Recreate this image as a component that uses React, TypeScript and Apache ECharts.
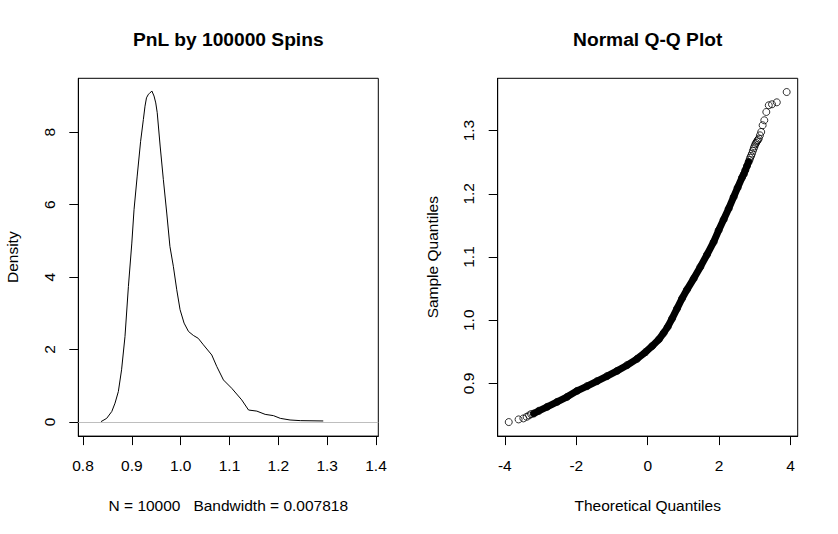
import React, { useEffect, useRef } from "react";
import * as echarts from "echarts";

const FONT = "'Liberation Sans', Arial, Helvetica, sans-serif";

// ---- Left panel: kernel density of PnL ----
const densityX = [0.837, 0.8485, 0.859, 0.8656, 0.8724, 0.879, 0.886, 0.893, 0.9, 0.9045, 0.911, 0.918, 0.9236, 0.927, 0.93, 0.934, 0.936, 0.941, 0.9455, 0.949, 0.952, 0.958, 0.9646, 0.9715, 0.978, 0.985, 0.992, 0.9988, 1.007, 1.016, 1.026, 1.036, 1.0466, 1.0637, 1.074, 1.0876, 1.1046, 1.125, 1.139, 1.156, 1.173, 1.19, 1.204, 1.224, 1.245, 1.292];
const densityY = [0.01, 0.1, 0.29, 0.52, 0.84, 1.44, 2.36, 3.74, 4.94, 5.86, 6.79, 7.75, 8.35, 8.72, 8.95, 9.05, 9.07, 9.14, 9.0, 8.81, 8.54, 7.62, 6.69, 5.77, 4.85, 4.3, 3.65, 3.1, 2.73, 2.5, 2.39, 2.31, 2.13, 1.85, 1.53, 1.16, 0.93, 0.61, 0.33, 0.3, 0.21, 0.175, 0.1, 0.055, 0.037, 0.028];
const densityXTicks = [0.8, 0.9, 1.0, 1.1, 1.2, 1.3, 1.4];
const densityYTicks = [0, 2, 4, 6, 8];

// ---- Right panel: normal Q-Q plot ----
// individual circles in the lower tail
const qqLowX = [-3.891, -3.615, -3.481, -3.39, -3.321, -3.265];
const qqLowY = [0.8389, 0.8431, 0.8447, 0.8472, 0.8494, 0.8515];
// dense band of overlapping points
const qqBandX = [-3.188, -3.048, -2.815, -2.535, -2.255, -1.976, -1.696, -1.416, -1.137, -0.857, -0.577, -0.298, -0.064, 0.122, 0.309, 0.448, 0.56, 0.682, 0.821, 0.961, 1.101, 1.288, 1.474, 1.661, 1.847, 1.987, 2.127, 2.267, 2.407, 2.518, 2.64, 2.69, 2.733, 2.78, 2.826];
const qqBandY = [0.8524, 0.8567, 0.863, 0.8709, 0.8788, 0.8883, 0.8957, 0.9036, 0.9115, 0.9199, 0.9289, 0.9389, 0.9494, 0.9589, 0.9694, 0.98, 0.9895, 1.0026, 1.0184, 1.0343, 1.0485, 1.0659, 1.0843, 1.1038, 1.1238, 1.1423, 1.1592, 1.1765, 1.195, 1.2097, 1.2256, 1.231, 1.2372, 1.244, 1.2503];
// individual circles in the upper tail
const qqHighX = [2.85, 2.87, 2.895, 2.919, 2.945, 2.97, 2.99, 3.012, 3.035, 3.06, 3.085, 3.111, 3.143, 3.178, 3.218, 3.265, 3.321, 3.39, 3.481, 3.615, 3.891];
const qqHighY = [1.2535, 1.257, 1.26, 1.2635, 1.268, 1.272, 1.275, 1.2783, 1.2805, 1.283, 1.285, 1.2873, 1.2925, 1.2978, 1.3084, 1.3163, 1.3294, 1.34, 1.3416, 1.3447, 1.361];
const qqXTicks = [-4, -2, 0, 2, 4];
const qqYTicks = [0.9, 1.0, 1.1, 1.2, 1.3];

const zip = (xs: number[], ys: number[]) => xs.map((x, i) => [x, ys[i]]);

const textBase = { fontFamily: FONT, fontSize: 15.5, color: "#000" };

function makeXAxis(gridIndex: number, min: number, max: number, ticks: number[], name: string, digits: number) {
  return {
    type: "value",
    gridIndex,
    min,
    max,
    name,
    nameLocation: "middle",
    nameGap: 61,
    nameTextStyle: { ...textBase },
    axisLine: { show: true, onZero: false, lineStyle: { color: "#000", width: 1 } },
    axisTick: { show: true, length: 9, inside: false, customValues: ticks, lineStyle: { color: "#000", width: 1 } },
    axisLabel: {
      show: true,
      customValues: ticks,
      margin: 21,
      ...textBase,
      formatter: (v: number) => v.toFixed(digits),
    },
    splitLine: { show: false },
  };
}

function makeYAxis(gridIndex: number, min: number, max: number, ticks: number[], name: string, digits: number) {
  return {
    type: "value",
    gridIndex,
    min,
    max,
    name,
    nameLocation: "middle",
    nameGap: 57.5,
    nameTextStyle: { ...textBase },
    axisLine: { show: true, onZero: false, lineStyle: { color: "#000", width: 1 } },
    axisTick: { show: true, length: 9, inside: false, customValues: ticks, lineStyle: { color: "#000", width: 1 } },
    axisLabel: {
      show: true,
      customValues: ticks,
      rotate: 90,
      margin: 21,
      ...textBase,
      formatter: (v: number) => v.toFixed(digits),
    },
    splitLine: { show: false },
  };
}

const circleStyle = { color: "rgba(0,0,0,0)", borderColor: "#000", borderWidth: 1 };

export default function App() {
  const ref = useRef<HTMLDivElement>(null);

  useEffect(() => {
    if (!ref.current) return;
    const chart = echarts.init(ref.current, undefined, { renderer: "svg" });
    chart.setOption({
      animation: false,
      backgroundColor: "#fff",
      grid: [
        { left: 78.3, top: 78.3, width: 300, height: 357.8, show: true, borderColor: "#000", borderWidth: 1, backgroundColor: "transparent" },
        { left: 497.7, top: 78.3, width: 300, height: 357.8, show: true, borderColor: "#000", borderWidth: 1, backgroundColor: "transparent" },
      ],
      xAxis: [
        makeXAxis(0, 0.7904, 1.4047, densityXTicks, "N = 10000   Bandwidth = 0.007818", 1),
        makeXAxis(1, -4.2, 4.2, qqXTicks, "Theoretical Quantiles", 0),
      ],
      yAxis: [
        makeYAxis(0, -0.39, 9.49, densityYTicks, "Density", 0),
        makeYAxis(1, 0.8167, 1.3827, qqYTicks, "Sample Quantiles", 1),
      ],
      graphic: [
        {
          type: "text",
          x: 228.3,
          y: 39,
          style: { text: "PnL by 100000 Spins", align: "center", verticalAlign: "middle", fontFamily: FONT, fontSize: 19.2, fontWeight: "bold", fill: "#000" },
        },
        {
          type: "text",
          x: 647.7,
          y: 39,
          style: { text: "Normal Q-Q Plot", align: "center", verticalAlign: "middle", fontFamily: FONT, fontSize: 19.2, fontWeight: "bold", fill: "#000" },
        },
      ],
      series: [
        {
          type: "line",
          name: "density",
          xAxisIndex: 0,
          yAxisIndex: 0,
          data: zip(densityX, densityY),
          symbol: "none",
          smooth: false,
          lineStyle: { color: "#000", width: 1 },
          z: 2,
        },
        {
          type: "line",
          name: "zero",
          xAxisIndex: 0,
          yAxisIndex: 0,
          data: [],
          z: 3,
          markLine: {
            silent: true,
            symbol: "none",
            label: { show: false },
            lineStyle: { color: "#bebebe", type: "solid", width: 1 },
            data: [{ yAxis: 0 }],
          },
        },
        {
          type: "line",
          name: "qqBand",
          xAxisIndex: 1,
          yAxisIndex: 1,
          data: zip(qqBandX, qqBandY),
          symbol: "none",
          smooth: false,
          lineStyle: { color: "#000", width: 7, cap: "round", join: "round" },
        },
        {
          type: "scatter",
          name: "qqPoints",
          xAxisIndex: 1,
          yAxisIndex: 1,
          data: [...zip(qqLowX, qqLowY), ...zip(qqBandX, qqBandY), ...zip(qqHighX, qqHighY)],
          symbol: "circle",
          symbolSize: 7,
          itemStyle: circleStyle,
        },
      ],
    });
    return () => chart.dispose();
  }, []);

  return (
    <div
      ref={ref}
      style={{ position: "fixed", left: 0, top: 0, width: 838, height: 534, background: "#fff" }}
    />
  );
}
